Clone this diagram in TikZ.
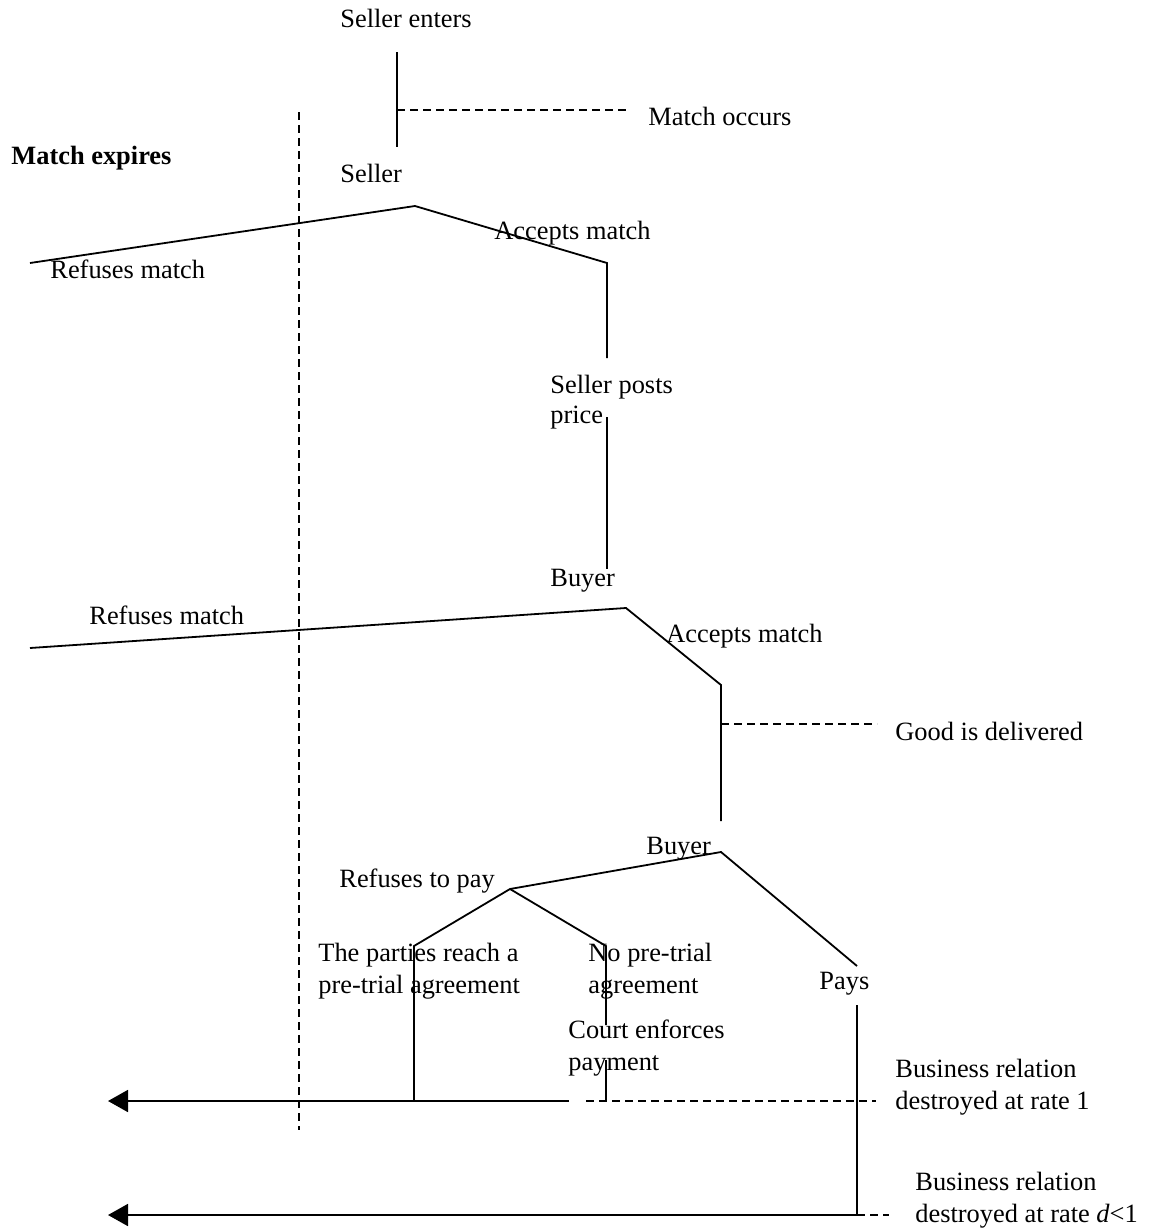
\documentclass[tikz,border=0pt]{standalone}
\usepackage{fontspec}
\setmainfont{Liberation Serif}
\usetikzlibrary{arrows.meta}
\tikzset{
  lbl/.style={inner sep=0pt, anchor=base west, font=\fontsize{13.2pt}{16pt}\selectfont},
  branch/.style={line width=0.9pt},
  dsh/.style={line width=0.9pt, dash pattern=on 4pt off 2.5pt},
  arr/.style={line width=0.9pt, -{Triangle[length=10pt,width=11pt]}}
}
\begin{document}
\begin{tikzpicture}[x=0.5pt,y=-0.5pt]
\useasboundingbox (0,0) rectangle (1156,1232);
% texts
\node[lbl] (tEnter) at (340,27) {Seller enters};
\node[lbl] (tOccurs) at (648,125) {Match occurs};
\node[lbl,font=\fontsize{13.2pt}{16pt}\selectfont\bfseries] (tExpires) at (11,164) {Match expires};
\node[lbl] (tSeller) at (340,182) {Seller};
\node[lbl] (tRef1) at (50,278) {Refuses match};
\node[lbl] (tAcc1) at (494,239) {Accepts match};
\node[lbl] (tPosts1) at (550,393) {Seller posts};
\node[lbl] (tPosts2) at (550,423) {price};
\node[lbl] (tBuyer1) at (550,586) {Buyer};
\node[lbl] (tRef2) at (89,624) {Refuses match};
\node[lbl] (tAcc2) at (666,642) {Accepts match};
\node[lbl] (tGood) at (895,740) {Good is delivered};
\node[lbl] (tBuyer2) at (646,854) {Buyer};
\node[lbl] (tRefPay) at (339,887) {Refuses to pay};
\node[lbl] (tParties1) at (318,961) {The parties reach a};
\node[lbl] (tParties2) at (318,993) {pre-trial agreement};
\node[lbl] (tNo1) at (588,961) {No pre-trial};
\node[lbl] (tNo2) at (588,993) {agreement};
\node[lbl] (tCourt1) at (568,1038) {Court enforces};
\node[lbl] (tCourt2) at (568,1070) {payment};
\node[lbl] (tPays) at (819,989) {Pays};
\node[lbl] (tBus1a) at (895,1077) {Business relation};
\node[lbl] (tBus1b) at (895,1109) {destroyed at rate 1};
\node[lbl] (tBus2a) at (915,1190) {Business relation};
\node[lbl] (tBus2b) at (915,1222) {destroyed at rate \textit{d}<1};
% coordinates
\coordinate (e0) at (397,52);
\coordinate (e1) at (397,147);
\coordinate (mo0) at (397,110);
\coordinate (mo1) at (630,110);
\coordinate (sv) at (415,206);
\coordinate (sl) at (30,263);
\coordinate (sr) at (607,263);
\coordinate (sr2) at (607,358);
\coordinate (pp0) at (607,417);
\coordinate (pp1) at (607,569);
\coordinate (bv) at (626,608);
\coordinate (bl) at (30,648);
\coordinate (br) at (721,685);
\coordinate (br2) at (721,821);
\coordinate (gd0) at (721,724);
\coordinate (gd1) at (877,724);
\coordinate (pv) at (721,852);
\coordinate (rv) at (510,889);
\coordinate (pl) at (414,946);
\coordinate (pr) at (606,946);
\coordinate (pr2) at (606,1025);
\coordinate (cr0) at (606,1060);
\coordinate (cr1) at (606,1101);
\coordinate (pl2) at (414,1101);
\coordinate (ys) at (857,966);
\coordinate (ys0) at (857,1005);
\coordinate (ys1) at (857,1215);
\coordinate (a1) at (108,1101);
\coordinate (h1) at (569,1101);
\coordinate (d1) at (586,1101);
\coordinate (d1e) at (876,1101);
\coordinate (a2) at (108,1215);
\coordinate (d2e) at (889,1215);
\coordinate (v0) at (299,112);
\coordinate (v1) at (299,1130);
% lines
\draw[dsh] (v0) -- (v1);
\draw[branch] (e0) -- (e1);
\draw[dsh] (mo0) -- (mo1);
\draw[branch] (sl) -- (sv) -- (sr) -- (sr2);
\draw[branch] (pp0) -- (pp1);
\draw[branch] (bl) -- (bv) -- (br) -- (br2);
\draw[dsh] (gd0) -- (gd1);
\draw[branch] (rv) -- (pv) -- (ys);
\draw[branch] (pl2) -- (pl) -- (rv) -- (pr) -- (pr2);
\draw[branch] (cr0) -- (cr1);
\draw[arr] (h1) -- (a1);
\draw[dsh] (d1) -- (d1e);
\draw[branch] (ys0) -- (ys1);
\draw[arr] (ys1) -- (a2);
\draw[dsh] (ys1) -- (d2e);
\end{tikzpicture}
\end{document}
